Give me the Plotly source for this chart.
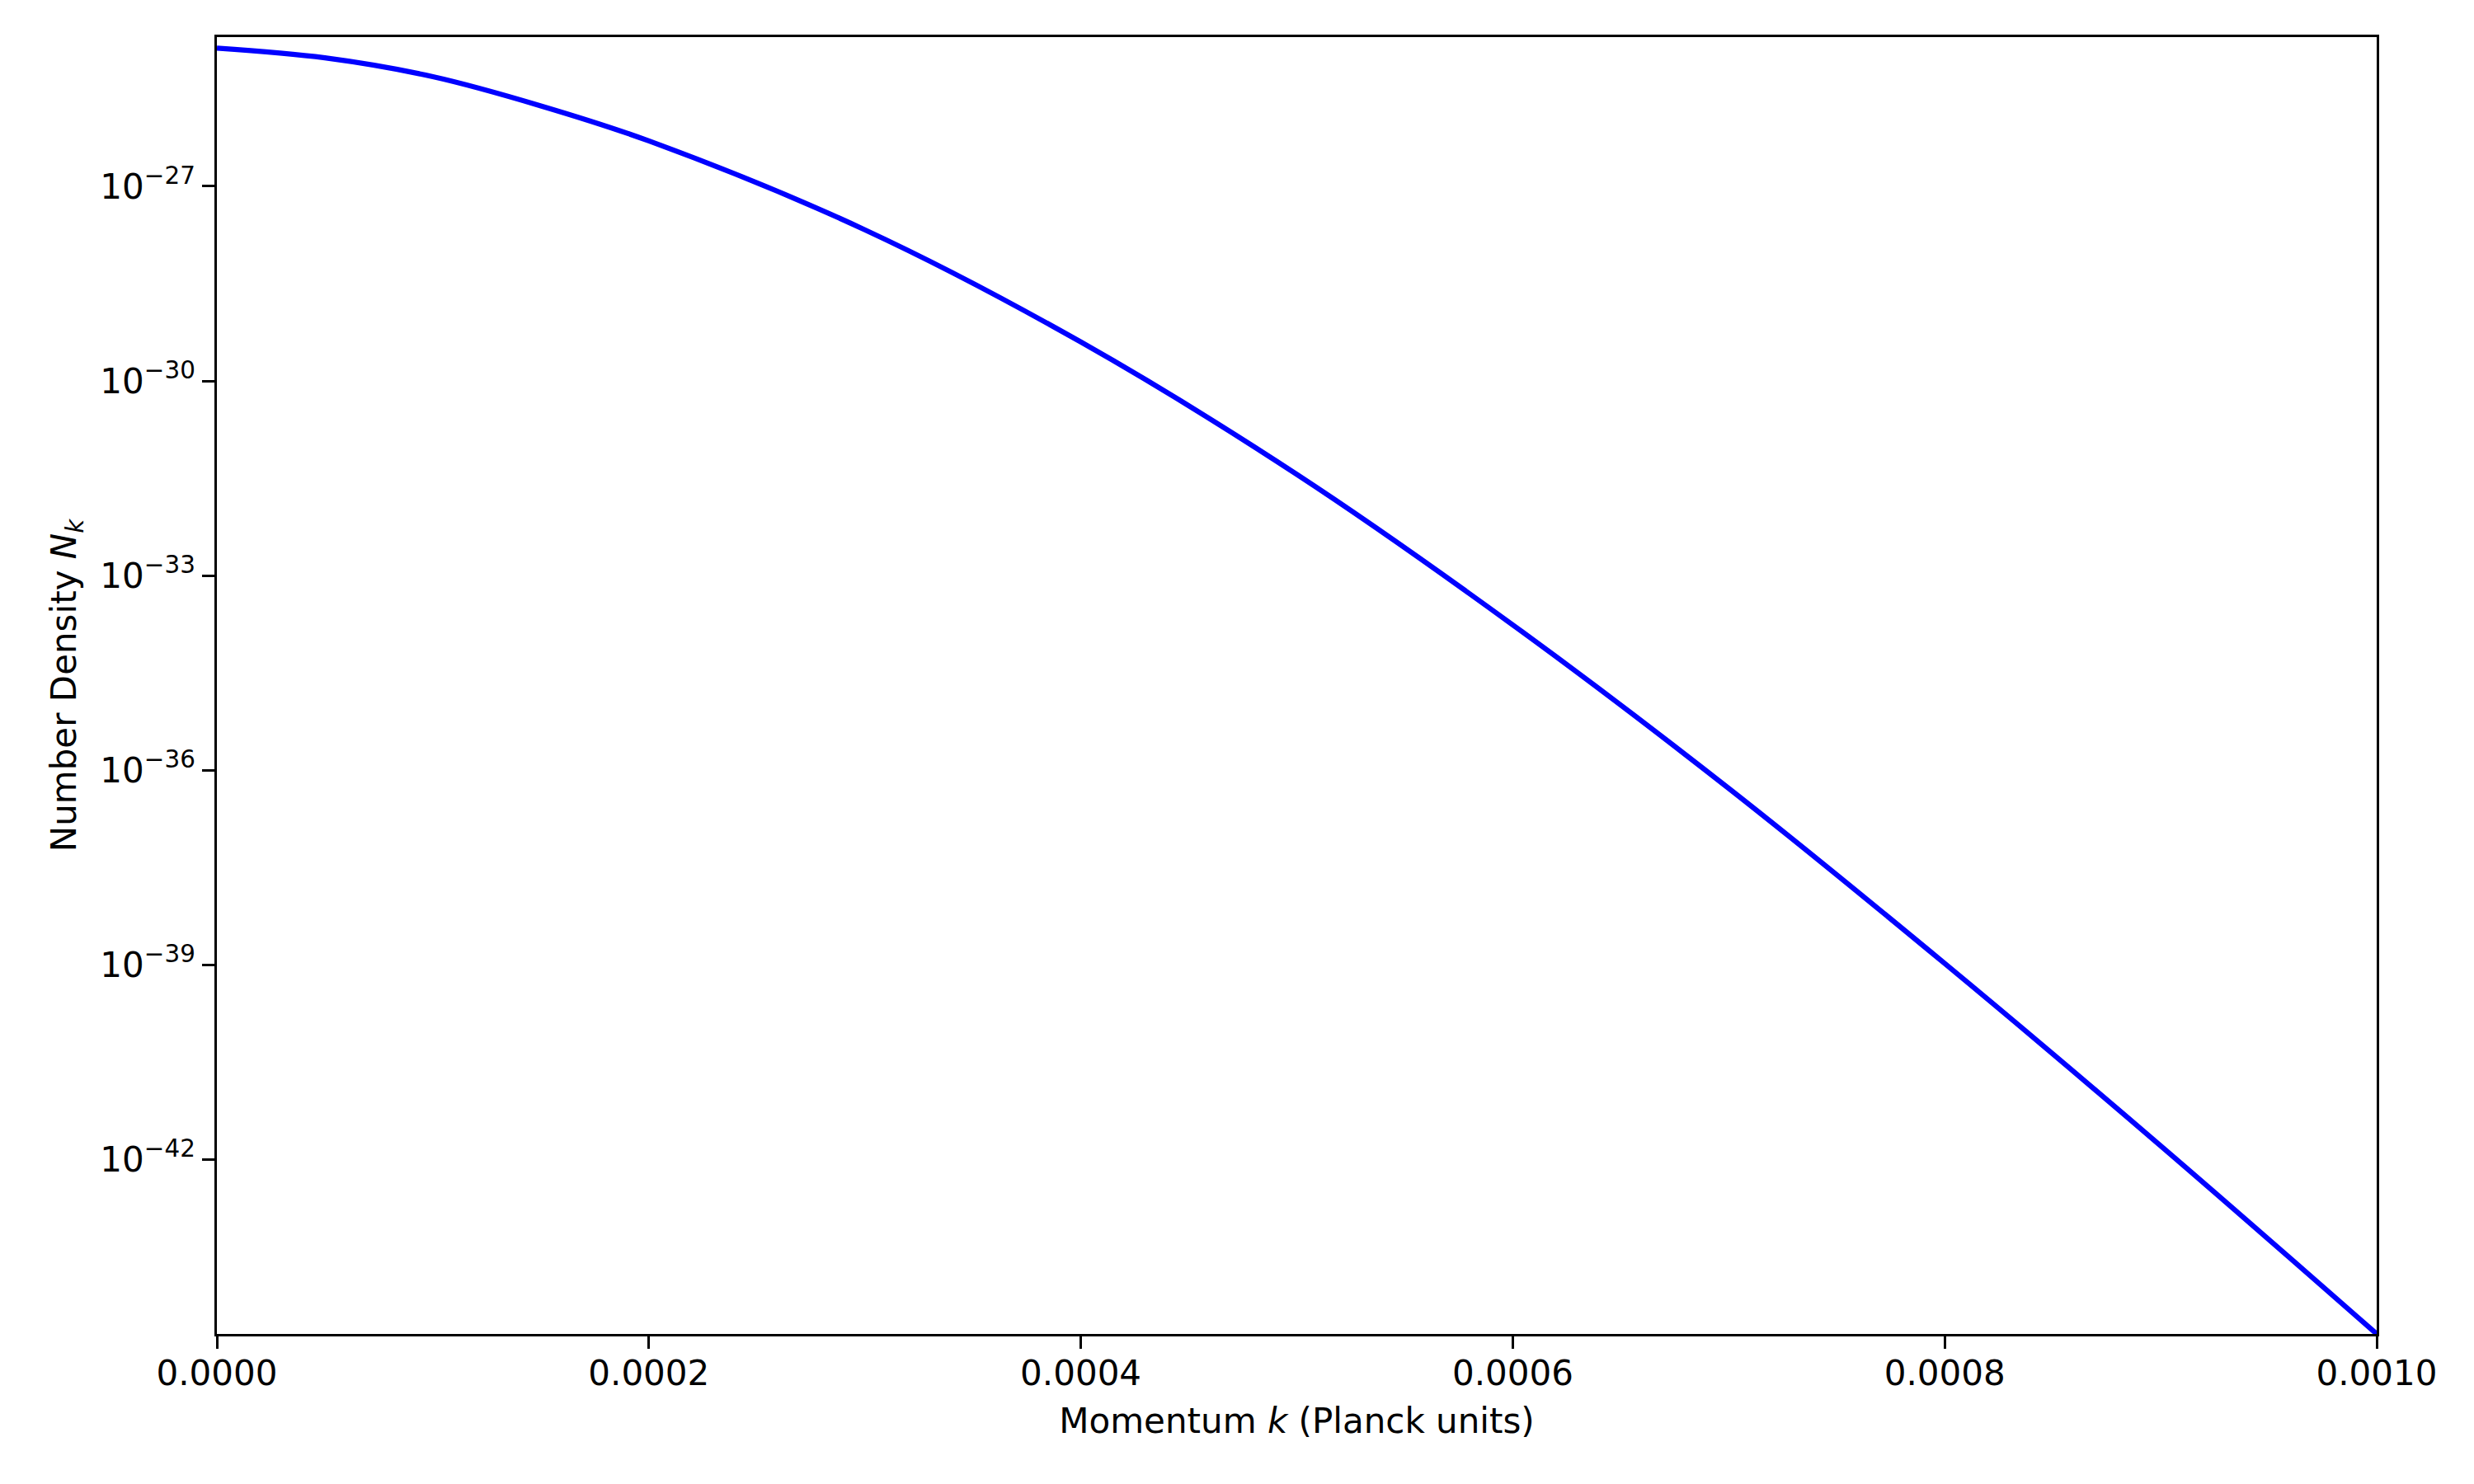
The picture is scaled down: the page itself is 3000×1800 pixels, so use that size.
import plotly.graph_objects as go

# Momentum k (Planck units)
k_values = [0.0, 0.00005, 0.0001, 0.00015, 0.0002, 0.0003, 0.0004, 0.0005,
            0.0006, 0.0007, 0.0008, 0.0009, 0.001]
# log10 of number density N_k
log_nk = [-24.87, -25.02, -25.31, -25.76, -26.30, -27.67, -29.40, -31.44,
          -33.76, -36.28, -38.98, -41.79, -44.69]
nk_values = [10 ** v for v in log_nk]

x_ticks = [0.0, 0.0002, 0.0004, 0.0006, 0.0008, 0.001]
x_tick_labels = ["0.0000", "0.0002", "0.0004", "0.0006", "0.0008", "0.0010"]
y_tick_exps = [-27, -30, -33, -36, -39, -42]

FONT = "DejaVu Sans"
fig = go.Figure()
fig.add_trace(go.Scatter(
    x=k_values, y=nk_values, mode="lines",
    line=dict(color="#0000ff", width=6.25, shape="spline", smoothing=1.0),
    showlegend=False,
))

axis_common = dict(
    showline=True, linecolor="black", linewidth=3.3, mirror=True,
    ticks="outside", ticklen=14.6, tickwidth=3.3, tickcolor="black",
    showgrid=False, zeroline=False,
    tickfont=dict(family=FONT, size=42, color="black"),
)

fig.update_layout(
    width=2992, height=1792,
    paper_bgcolor="white", plot_bgcolor="white",
    margin=dict(l=255, r=118, t=37, b=182),
    font=dict(family=FONT, size=42, color="black"),
    xaxis=dict(
        range=[0, 0.001],
        tickvals=x_ticks, ticktext=x_tick_labels,
        ticklabelstandoff=-6,
        title=dict(text="Momentum <i>k</i> (Planck units)",
                   font=dict(family=FONT, size=42, color="black"), standoff=20),
        **axis_common,
    ),
    yaxis=dict(
        type="log",
        range=[-44.69, -24.70],
        tickvals=[10 ** e for e in y_tick_exps],
        ticktext=[f"10<sup>\u2212{abs(e)}</sup>" for e in y_tick_exps],
        title=dict(text="Number Density <i>N<sub>k</sub></i>",
                   font=dict(family=FONT, size=42, color="black"), standoff=16),
        **axis_common,
    ),
)

fig.write_html("out.html")
